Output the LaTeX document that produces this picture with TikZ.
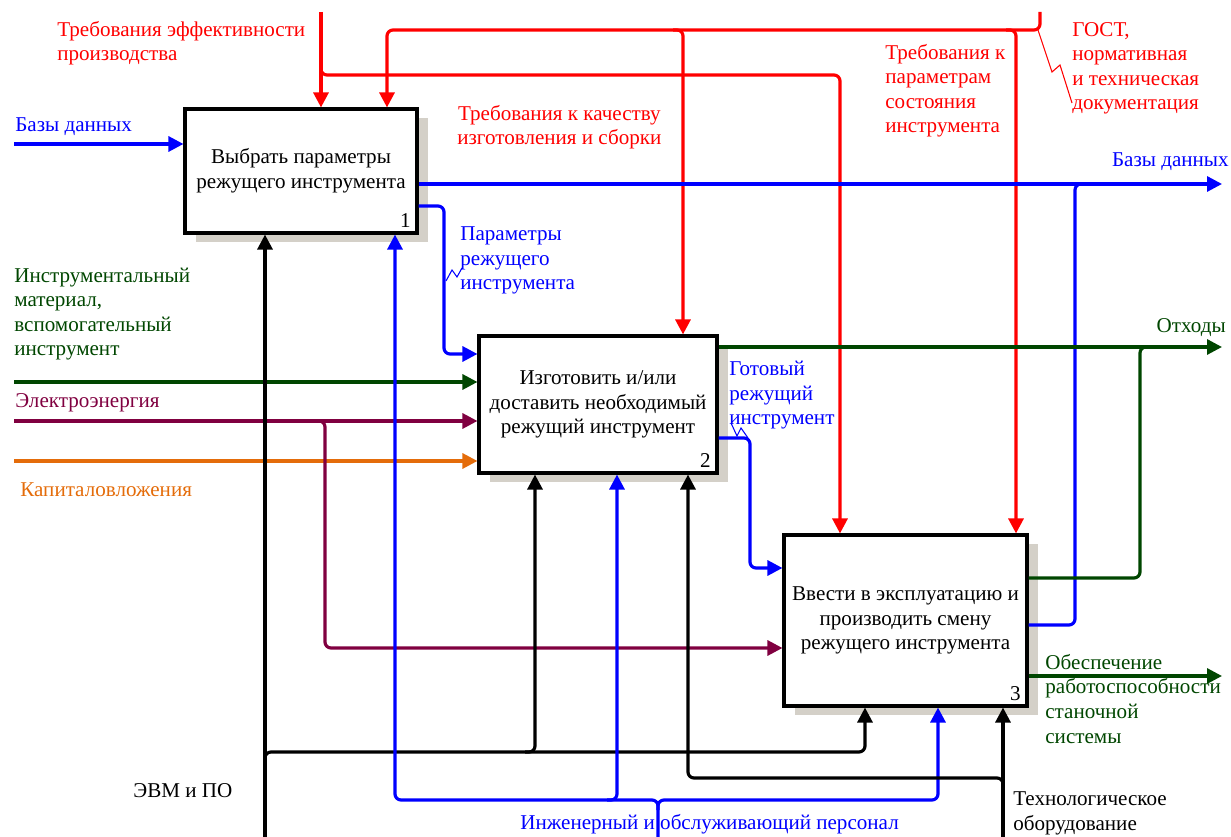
\documentclass[tikz,border=0pt]{standalone}
\usepackage{fontspec}
\setmainfont{Liberation Serif}
\usetikzlibrary{arrows.meta,shadows}

\definecolor{ctlred}{RGB}{255,0,0}
\definecolor{dbblue}{RGB}{0,0,255}
\definecolor{matgreen}{RGB}{0,70,0}
\definecolor{elred}{RGB}{128,0,64}
\definecolor{caporange}{RGB}{228,108,10}
\definecolor{shadowgray}{RGB}{212,208,200}

\begin{document}
\begin{tikzpicture}[x=0.02cm, y=-0.02cm,
    every node/.style={font=\fontsize{12}{14}\selectfont},
    fn/.style={draw, line width=1.8pt, fill=white, align=center, inner sep=0pt,
        drop shadow={shadow xshift=0.22cm, shadow yshift=-0.18cm, fill=shadowgray, opacity=1}},
    num/.style={anchor=base east, inner sep=0pt, xshift=-0.15cm, yshift=0.15cm},
    wire/.style={line width=1.8pt, rounded corners=0.12cm},
    arr/.style={wire, -{Triangle[length=0.3cm, width=0.3cm]}},
    lbl/.style={anchor=base west, inner sep=0pt, align=left},
    tilde/.style={line width=0.6pt}]
    \useasboundingbox (0,0) rectangle (1231,837);

    %blocks
    \node[fn, minimum width=4.64cm, minimum height=2.48cm] (b1) at (301,171) {Выбрать параметры\\режущего инструмента};
    \node[fn, minimum width=4.76cm, minimum height=2.74cm] (b2) at (598,404.5) {Изготовить и/или\\доставить необходимый\\режущий инструмент};
    \node[fn, minimum width=4.86cm, minimum height=3.42cm] (b3) at (905.5,620.5) {Ввести в эксплуатацию и\\производить смену\\режущего инструмента};
    \node[num] (n1) at (b1.south east) {1};
    \node[num] (n2) at (b2.south east) {2};
    \node[num] (n3) at (b3.south east) {3};

    %free ends
    \coordinate (dbIn) at (14,144);
    \coordinate (matIn) at (14,382);
    \coordinate (elIn) at (14,421);
    \coordinate (capIn) at (14,461);
    \coordinate (effTop) at (321,12);
    \coordinate (gostTop) at (1040,12);
    \coordinate (dbOut) at (1222,184);
    \coordinate (wasteOut) at (1222,347);
    \coordinate (serviceOut) at (1222,676);
    \coordinate (pcBot) at (265,837);
    \coordinate (staffBot) at (658,837);
    \coordinate (equipBot) at (1003,837);

    %inputs
    \draw[arr, dbblue] (dbIn) -- (dbIn -| b1.west);
    \draw[arr, matgreen] (matIn) -- (matIn -| b2.west);
    \draw[arr, elred] (elIn) -- (elIn -| b2.west);
    \draw[arr, caporange] (capIn) -- (capIn -| b2.west);
    \draw[arr, elred] (315,421) -- (325,421) -- (325,648) -- (b3.west |- 0,648);

    %controls
    \draw[arr, ctlred] (effTop) -- (effTop |- b1.north);
    \draw[arr, ctlred] (321,65) -- (321,75) -- (840,75) -- (840,0 |- b3.north);
    \draw[arr, ctlred] (gostTop) -- (1040,30) -- (387,30) -- (387,0 |- b1.north);
    \draw[arr, ctlred] (673,30) -- (683,30) -- (683,0 |- b2.north);
    \draw[arr, ctlred] (1006,30) -- (1016,30) -- (1016,0 |- b3.north);

    %outputs
    \draw[arr, dbblue] (b1.east |- dbOut) -- (dbOut);
    \draw[arr, dbblue] (b1.east |- 0,206) -- (444,206) -- (444,354) -- (b2.west |- 0,354);
    \draw[wire, dbblue] (b3.east |- 0,625) -- (1075,625) -- (1075,184) -- (1085,184);
    \draw[arr, matgreen] (b2.east |- wasteOut) -- (wasteOut);
    \draw[wire, matgreen] (b3.east |- 0,578) -- (1140,578) -- (1140,347) -- (1150,347);
    \draw[arr, matgreen] (b3.east |- serviceOut) -- (serviceOut);
    \draw[arr, dbblue] (b2.east |- 0,438) -- (750,438) -- (750,568) -- (b3.west |- 0,568);

    %mechanisms
    \draw[arr] (pcBot) -- (pcBot |- b1.south);
    \draw[arr] (265,762) -- (265,752) -- (865,752) -- (865,0 |- b3.south);
    \draw[arr] (525,752) -- (535,752) -- (535,0 |- b2.south);
    \draw[arr, dbblue] (staffBot) -- (658,800) -- (395,800) -- (395,0 |- b1.south);
    \draw[arr, dbblue] (658,810) -- (658,800) -- (938,800) -- (938,0 |- b3.south);
    \draw[arr, dbblue] (607,800) -- (617,800) -- (617,0 |- b2.south);
    \draw[arr] (equipBot) -- (equipBot |- b3.south);
    \draw[arr] (1003,788) -- (1003,778) -- (688,778) -- (688,0 |- b2.south);

    %labels (base = last line)
    \node[lbl, ctlred] (effLbl) at (57,61) {Требования эффективности\\производства};
    \node[lbl, dbblue] (dbInLbl) at (15,132) {Базы данных};
    \node[lbl, ctlred, align=center] (qualLbl) at (457,145) {Требования к качеству\\изготовления и сборки};
    \node[lbl, ctlred] (parLbl) at (885,133) {Требования к\\параметрам\\состояния\\инструмента};
    \node[lbl, ctlred] (gostLbl) at (1072,110) {ГОСТ,\\нормативная\\и техническая\\документация};
    \node[lbl, dbblue, anchor=base east] (dbOutLbl) at (1229,167) {Базы данных};
    \node[lbl, dbblue] (toolLbl) at (460,290) {Параметры\\режущего\\инструмента};
    \node[lbl, matgreen] (matLbl) at (14,356) {Инструментальный\\материал,\\вспомогательный\\инструмент};
    \node[lbl, elred] (elLbl) at (15,408) {Электроэнергия};
    \node[lbl, caporange] (capLbl) at (20,497) {Капиталовложения};
    \node[lbl, dbblue] (readyLbl) at (729,425) {Готовый\\режущий\\инструмент};
    \node[lbl, matgreen, anchor=base east] (wasteLbl) at (1226,333) {Отходы};
    \node[lbl, matgreen] (serviceLbl) at (1045,743) {Обеспечение\\работоспособности\\станочной\\системы};
    \node[lbl] (pcLbl) at (133,797) {ЭВМ и ПО};
    \node[lbl, dbblue] (staffLbl) at (520,829) {Инженерный и обслуживающий персонал};
    \node[lbl] (equipLbl) at (1013,830) {Технологическое\\оборудование};

    %label ties
    \draw[tilde, ctlred] (1038,30) -- (1052,72) -- (1060,65) -- (1072,103);
    \draw[tilde, dbblue] (446,281) -- (452,270) -- (457,277) -- (462,268);
    \draw[tilde, dbblue] (731,423) -- (737,436) -- (741,428) -- (748,438);
\end{tikzpicture}
\end{document}
